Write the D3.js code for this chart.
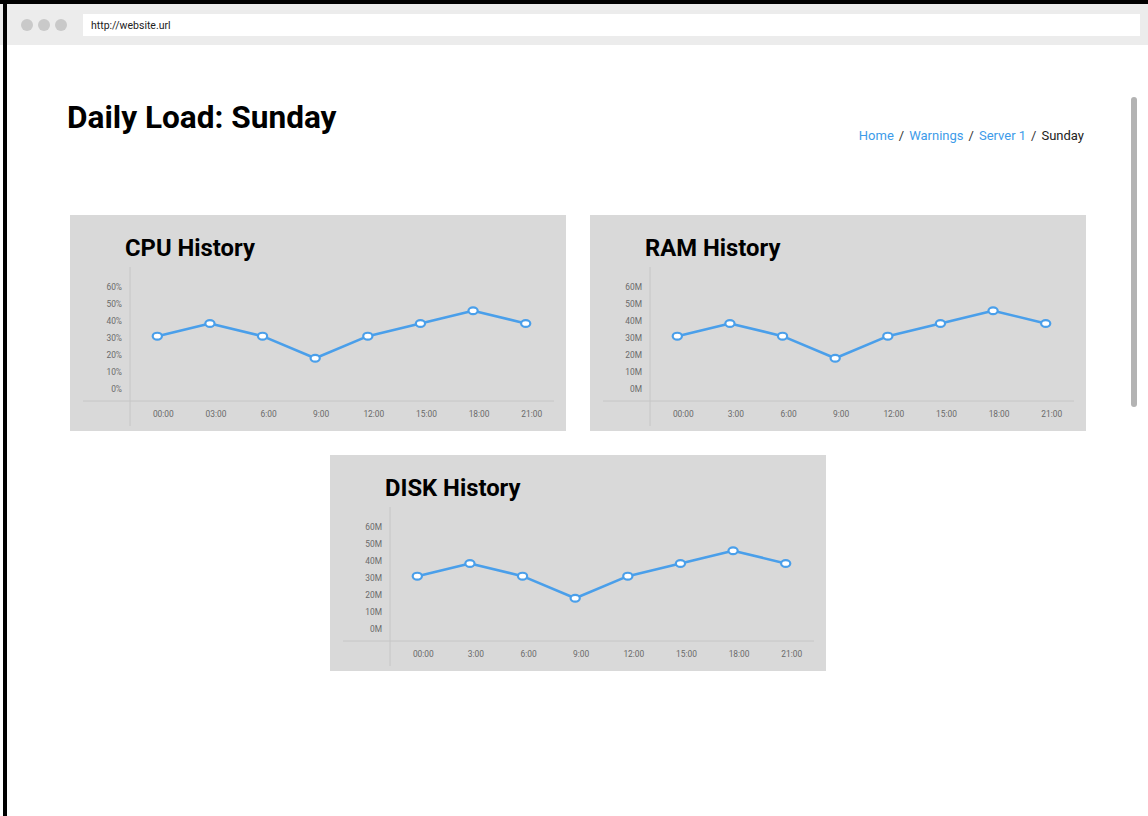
<!DOCTYPE html>
<html>
<head>
<meta charset="utf-8">
<script src="https://cdn.jsdelivr.net/npm/d3@7"></script>
<style>
  html, body { margin: 0; padding: 0; background: #fff; }
  svg { display: block; font-family: Roboto, "Noto Sans", sans-serif; }
</style>
</head>
<body>
<svg id="page" width="1148" height="816"></svg>
<script>
// ---- data ----
const cpuTimes = ["00:00", "03:00", "6:00", "9:00", "12:00", "15:00", "18:00", "21:00"];
const memTimes = ["00:00", "3:00", "6:00", "9:00", "12:00", "15:00", "18:00", "21:00"];
const cpuValues = [31, 38.5, 31, 18, 31, 38.5, 46, 38.5];
const ramValues = [31, 38.5, 31, 18, 31, 38.5, 46, 38.5];
const diskValues = [31, 38.5, 31, 18, 31, 38.5, 46, 38.5];
const yTicks = [0, 10, 20, 30, 40, 50, 60];
const pctFormat = d => d + "%";
const memFormat = d => d + "M";
const breadcrumb = ["Home", "Warnings", "Server 1", "Sunday"];

const svg = d3.select("#page");

// ---- browser chrome ----
svg.append("rect").attr("x", 0).attr("y", 0).attr("width", 1148).attr("height", 816).attr("fill", "#fff");
svg.append("rect").attr("x", 0).attr("y", 4).attr("width", 1148).attr("height", 41).attr("fill", "#ececec");
svg.append("rect").attr("x", 83).attr("y", 14).attr("width", 1057).attr("height", 22).attr("fill", "#fff");
svg.append("text").attr("x", 91).attr("y", 29).attr("font-size", 10.5).attr("fill", "#222").text("http://website.url");
[27, 44, 61].forEach(cx => svg.append("circle").attr("cx", cx).attr("cy", 25).attr("r", 6).attr("fill", "#c9c9c9"));
// border
svg.append("rect").attr("x", 0).attr("y", 0).attr("width", 1148).attr("height", 4).attr("fill", "#000");
svg.append("rect").attr("x", 3).attr("y", 0).attr("width", 4).attr("height", 816).attr("fill", "#000");
// scrollbar
svg.append("rect").attr("x", 1131).attr("y", 97).attr("width", 6).attr("height", 310).attr("rx", 3).attr("fill", "#b3b3b3");

// ---- header ----
svg.append("text").attr("x", 67).attr("y", 128).attr("font-size", 31.6).attr("font-weight", 700).attr("fill", "#000")
  .text("Daily Load: Sunday");

const bc = svg.append("text").attr("x", 1084).attr("y", 140).attr("font-size", 13).attr("text-anchor", "end");
breadcrumb.forEach((b, i) => {
  const last = i === breadcrumb.length - 1;
  bc.append("tspan").attr("fill", last ? "#222" : "#3d9be9").attr("dx", i === 0 ? 0 : 5).text(b);
  if (!last) bc.append("tspan").attr("fill", "#333").attr("dx", 5).text("/");
});

// ---- charts ----
function drawChart(px, py, title, times, values, fmt) {
  const W = 496, H = 216;
  const g = svg.append("g").attr("transform", `translate(${px},${py})`);
  g.append("rect").attr("width", W).attr("height", H).attr("fill", "#d9d9d9");
  g.append("text").attr("x", 55).attr("y", 40.5).attr("font-size", 23.8).attr("font-weight", 700).attr("fill", "#000").text(title);

  const x = d3.scalePoint().domain(times).range([87.3, 455.7]);
  const y = d3.scaleLinear().domain([0, 60]).range([173.7, 72]);

  // axis lines
  g.append("line").attr("x1", 60).attr("x2", 60).attr("y1", 52).attr("y2", 211).attr("stroke", "#c6c6c6").attr("stroke-width", 1);
  g.append("line").attr("x1", 13).attr("x2", 484).attr("y1", 186).attr("y2", 186).attr("stroke", "#c6c6c6").attr("stroke-width", 1);

  // y axis labels
  const ya = g.append("g").attr("transform", "translate(52,0)")
    .call(d3.axisLeft(y).tickValues(yTicks).tickFormat(fmt).tickSize(0).tickPadding(0));
  ya.select(".domain").remove();
  ya.selectAll("text").attr("font-size", 8.4).attr("fill", "#6a6a6a").attr("font-family", "Roboto, sans-serif");

  // x axis labels
  const xa = g.append("g").attr("transform", "translate(5.5,196)")
    .call(d3.axisBottom(x).tickSize(0).tickPadding(0));
  xa.select(".domain").remove();
  xa.selectAll("text").attr("font-size", 8.4).attr("fill", "#6a6a6a").attr("font-family", "Roboto, sans-serif");

  const line = d3.line().x((d, i) => x(times[i])).y(d => y(d));
  g.append("path").datum(values).attr("d", line).attr("fill", "none")
    .attr("stroke", "#4a9fea").attr("stroke-width", 2.6).attr("stroke-linejoin", "round");
  g.selectAll("ellipse").data(values).enter().append("ellipse")
    .attr("cx", (d, i) => x(times[i])).attr("cy", d => y(d))
    .attr("rx", 4.6).attr("ry", 3.4)
    .attr("fill", "#fff").attr("stroke", "#4a9fea").attr("stroke-width", 2.2);
}

drawChart(70, 215, "CPU History", cpuTimes, cpuValues, pctFormat);
drawChart(590, 215, "RAM History", memTimes, ramValues, memFormat);
drawChart(330, 455, "DISK History", memTimes, diskValues, memFormat);
</script>
</body>
</html>
